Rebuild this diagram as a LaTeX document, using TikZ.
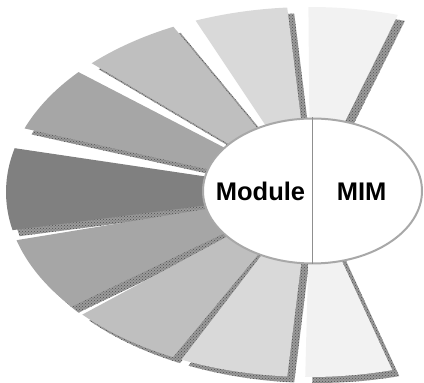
\documentclass[tikz,border=0pt]{standalone}
\usepackage{fontspec}
\setmainfont{Liberation Sans}
\usetikzlibrary{shapes.geometric,patterns}
\definecolor{wA}{HTML}{F2F2F2}
\definecolor{wB}{HTML}{D9D9D9}
\definecolor{wC}{HTML}{BFBFBF}
\definecolor{wD}{HTML}{A6A6A6}
\definecolor{wE}{HTML}{808080}
\definecolor{shd}{HTML}{9A9A9A}
\definecolor{shddot}{HTML}{505050}
\definecolor{rim}{HTML}{A8A8A8}
\tikzset{
  hubstyle/.style={ellipse, draw=rim, line width=2pt, fill=white,
    minimum width=219pt, minimum height=145pt, inner sep=0pt},
  labelstyle/.style={font=\bfseries\fontsize{25.5}{30}\selectfont, anchor=base, inner sep=0pt},
  dividerstyle/.style={draw=rim!85!black, line width=1.2pt},
  shadowstyle/.style={fill=shd, postaction={pattern=crosshatch dots, pattern color=shddot}}
}
\begin{document}
\begin{tikzpicture}[x=1pt,y=1pt]
\useasboundingbox (0,0) rectangle (424,383);
\coordinate (C) at (310,191);
\def\wedges{73.2/90.3/wA, 94.3/112.1/wB, 116.7/135.9/wC, 139.6/159.9/wD, 166.3/191.9/wE, 195.1/218.3/wD, 221.5/243.2/wC, 245.0/265.7/wB, 269.1/285.7/wA}
% shadows
\foreach \a/\b/\c in \wedges {
  \path[shadowstyle] ([xshift=7pt,yshift=-6pt]C) -- ++(\a:304 and 185)
    arc[start angle=\a, end angle=\b, x radius=304, y radius=185] -- cycle;
}
% wedges
\foreach \a/\b/\c in \wedges {
  \fill[\c] (C) -- ++(\a:304 and 185)
    arc[start angle=\a, end angle=\b, x radius=304, y radius=185] -- cycle;
}
\node[hubstyle] (hub) at (312.5,192) {};
\draw[dividerstyle] (hub.north) -- (hub.south);
\node[labelstyle] (mod) at (260.5,182) {Module};
\node[labelstyle] (mim) at (361.7,182) {MIM};
\end{tikzpicture}
\end{document}
